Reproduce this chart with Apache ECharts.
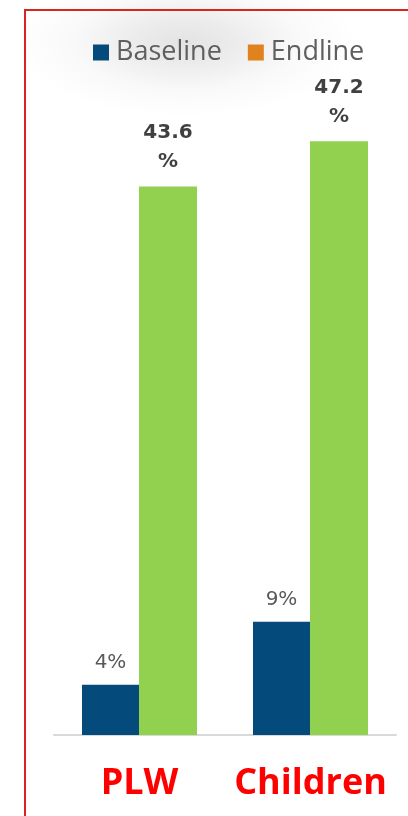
<!DOCTYPE html>
<html>
<head>
<meta charset="utf-8">
<style>
  html, body { margin: 0; padding: 0; background: #ffffff; }
  #chart { width: 408px; height: 816px; }
</style>
<script src="https://cdn.jsdelivr.net/npm/echarts@6/dist/echarts.min.js"></script>
</head>
<body>
<div id="chart"></div>
<script>
// Groups and series values (percent)
const categories = ['PLW', 'Children'];
const seriesNames = ['Baseline', 'Endline'];
const baselineValues = [4, 9];
const endlineValues = [43.6, 47.2];

const chart = echarts.init(document.getElementById('chart'));

const option = {
  backgroundColor: '#ffffff',
  animation: false,
  graphic: [
    {
      // soft grey haze behind the legend (a circle stretched sideways)
      type: 'circle',
      z: -10,
      x: 185,
      y: 42,
      scaleX: 2.3,
      scaleY: 1,
      shape: { cx: 0, cy: 0, r: 75 },
      style: {
        fill: new echarts.graphic.RadialGradient(0.5, 0.5, 0.5, [
          { offset: 0, color: 'rgba(0,0,0,0.11)' },
          { offset: 0.3, color: 'rgba(0,0,0,0.075)' },
          { offset: 0.65, color: 'rgba(0,0,0,0.025)' },
          { offset: 1, color: 'rgba(0,0,0,0)' }
        ])
      },
      silent: true
    },
    {
      // red frame around the panel
      type: 'rect',
      z: 100,
      shape: { x: 25, y: 10, width: 500, height: 900 },
      style: { fill: 'none', stroke: '#d7261e', lineWidth: 2 },
      silent: true
    }
  ],
  legend: {
    top: 34,
    left: 88,
    itemWidth: 16,
    itemHeight: 16,
    itemGap: 26,
    icon: 'rect',
    textStyle: { color: '#5f5f5f', fontSize: 27, fontFamily: 'Open Sans', padding: [0, 0, 0, 2] },
    data: [
      { name: seriesNames[0], itemStyle: { color: '#044a7a' } },
      { name: seriesNames[1], itemStyle: { color: '#e0821e' } }
    ]
  },
  grid: { left: 54, right: 12, top: 106, bottom: 81 },
  xAxis: {
    type: 'category',
    data: categories,
    axisLine: { lineStyle: { color: '#d9d9d9', width: 2 } },
    axisTick: { show: false },
    axisLabel: {
      interval: 0,
      color: '#ff0000',
      fontSize: 36,
      fontWeight: 'bold',
      fontFamily: 'Open Sans',
      margin: 31
    }
  },
  yAxis: {
    type: 'value',
    min: 0,
    max: 50,
    show: false,
    splitLine: { show: false }
  },
  series: [
    {
      name: seriesNames[0],
      type: 'bar',
      data: baselineValues,
      barWidth: 57,
      barGap: '0%',
      itemStyle: { color: '#044a7a' },
      label: {
        show: true,
        position: 'top',
        distance: 12,
        formatter: '{c}%',
        color: '#595959',
        fontSize: 20,
        fontFamily: 'DejaVu Sans'
      }
    },
    {
      name: seriesNames[1],
      type: 'bar',
      data: endlineValues,
      barWidth: 58,
      barGap: '0%',
      itemStyle: { color: '#92d050' },
      label: {
        show: true,
        position: 'top',
        distance: 10,
        formatter: '{c}\n%',
        color: '#404040',
        fontSize: 20,
        fontWeight: 'bold',
        fontFamily: 'DejaVu Sans',
        lineHeight: 29
      }
    }
  ]
};

chart.setOption(option);
</script>
</body>
</html>
